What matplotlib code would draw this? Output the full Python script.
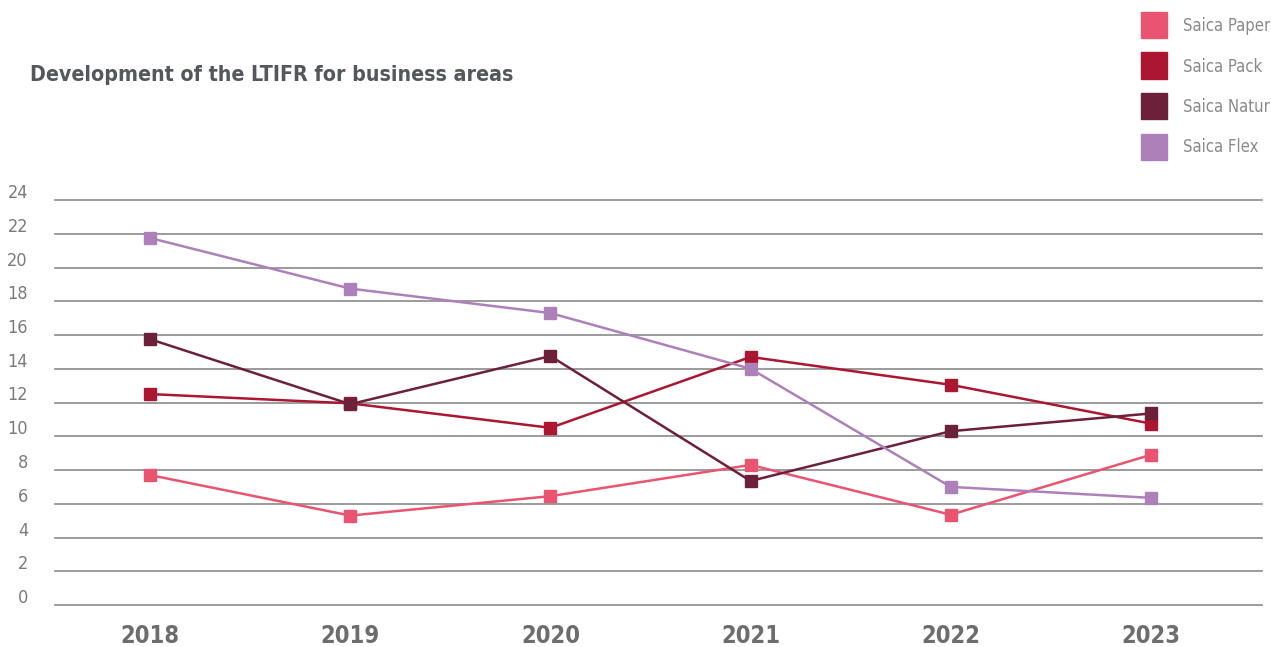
import numpy as np
import matplotlib
matplotlib.use('Agg')
import matplotlib.pyplot as plt
from matplotlib.patches import Rectangle
import matplotlib.transforms as mtransforms

# data
years = ['2018', '2019', '2020', '2021', '2022', '2023']
paper = [7.7, 5.3, 6.45, 8.3, 5.35, 8.9]
pack = [12.5, 11.95, 10.5, 14.7, 13.05, 10.75]
natur = [15.75, 11.9, 14.75, 7.35, 10.3, 11.35]
flex = [21.75, 18.75, 17.3, 14.0, 7.0, 6.35]
names = ['Saica Paper', 'Saica Pack', 'Saica Natur', 'Saica Flex']
colors = ['#E95470', '#AB1630', '#6D2039', '#AE80BA']
yticks = list(range(0, 25, 2))

fig = plt.figure(figsize=(12.71, 6.47), dpi=100)
ax = fig.add_axes([55/1271, 1-605/647, (1262-55)/1271, 405/647])

x = np.arange(len(years))
for vals, c in zip([paper, pack, natur, flex], colors):
    ax.plot(x, vals, color=c, lw=1.8, marker='s', ms=8.5, mec=c, mfc=c, clip_on=False, zorder=3)

ax.set_xlim(-0.475, 5.555)
ax.set_ylim(0, 24)
for t in yticks:
    ax.axhline(t, color='#8a8a8a', lw=1.2, zorder=1, clip_on=False)
ax.set_yticks([])
ax.set_xticks(x)
ax.set_xticklabels(years, fontsize=17, fontweight='bold', color='#6d6d6d',
                   fontstretch='condensed')
ax.tick_params(axis='x', length=0, pad=14)
for s in ax.spines.values():
    s.set_visible(False)

# y labels a little above their gridlines
trans = mtransforms.blended_transform_factory(fig.transFigure, ax.transData)
off = mtransforms.ScaledTranslation(0, 7/100, fig.dpi_scale_trans)
for t in yticks:
    fig.text(28/1271, t, str(t), transform=trans + off, ha='right', va='center',
             fontsize=13, color='#7a7a7a', fontstretch='condensed')

fig.text(30/1271, 1-75/647, 'Development of the LTIFR for business areas',
         fontsize=15.3, fontweight='bold', color='#54585c', va='center',
         fontstretch='condensed')

# legend
for i, (n, c) in enumerate(zip(names, colors)):
    yc = 25 + i*40.5
    fig.patches.append(Rectangle((1141/1271, 1-(yc+13)/647), 26/1271, 26/647,
                                 transform=fig.transFigure, color=c))
    fig.text(1183/1271, 1-(yc+1)/647, n, fontsize=12, color='#8a8a8a', va='center',
             fontstretch='condensed')

fig.savefig('out.png', dpi=100)
